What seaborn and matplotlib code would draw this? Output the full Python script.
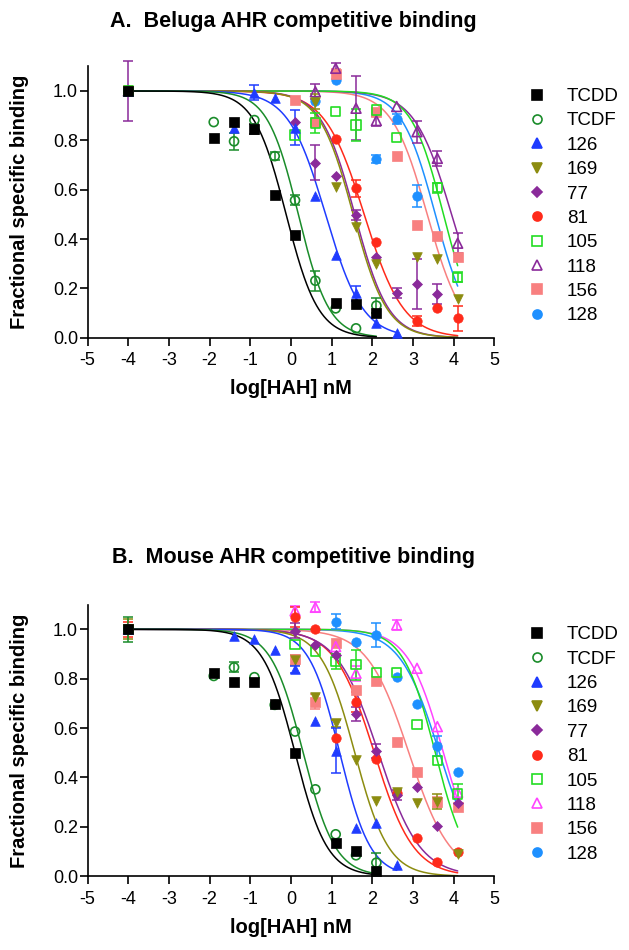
import numpy as np
import pandas as pd
import matplotlib
matplotlib.use("Agg")
import matplotlib.pyplot as plt
from matplotlib.lines import Line2D
import seaborn as sns

# ── Data ─────────────────────────────────────────────────────────────────────
nan = np.nan
LOG_DOSE = [-4, -1.9, -1.4, -0.9, -0.4, 0.1, 0.6, 1.1, 1.6, 2.1, 2.6, 3.1, 3.6, 4.1]
COMPOUNDS = ["TCDD", "TCDF", "126", "169", "77", "81", "105", "118", "156", "128"]

# Panel A: beluga AHR (fractional specific binding, mean and error)
bel_tcdd = [1.0, 0.81, 0.875, 0.845, 0.578, 0.418, nan, 0.14, 0.137, 0.10, nan, nan, nan, nan]
bel_tcdf = [1.0, 0.874, 0.796, 0.882, 0.736, 0.557, 0.231, 0.119, 0.038, 0.13, nan, nan, nan, nan]
bel_126 = [1.0, nan, 0.851, 0.993, 0.973, 0.851, 0.574, 0.335, 0.18, 0.058, 0.018, nan, nan, nan]
bel_169 = [1.0, nan, nan, nan, nan, nan, 0.957, 0.612, 0.45, 0.30, nan, 0.326, 0.318, 0.155]
bel_77 = [1.0, nan, nan, nan, nan, 0.876, 0.71, 0.656, 0.497, 0.326, 0.18, 0.218, 0.177, nan]
bel_81 = [1.0, nan, nan, nan, nan, nan, nan, 0.806, 0.605, 0.389, nan, 0.068, 0.119, 0.079]
bel_105 = [1.0, nan, nan, nan, nan, 0.822, 0.87, 0.916, 0.862, 0.923, 0.811, nan, 0.608, 0.245]
bel_118 = [1.0, nan, nan, nan, nan, nan, 0.997, 1.092, 0.93, 0.88, 0.937, 0.835, 0.727, 0.383]
bel_156 = [1.0, nan, nan, nan, nan, 0.963, 0.876, 1.07, nan, 0.916, 0.737, 0.457, 0.414, 0.328]
bel_128 = [1.0, nan, nan, nan, nan, nan, 0.96, 1.045, nan, 0.725, 0.886, 0.575, nan, nan]

bel_tcdd_err = [0, 0, 0, 0.02, 0, 0, 0, 0, 0, 0, 0, 0, 0, 0]
bel_tcdf_err = [0, 0, 0.035, 0, 0.015, 0.02, 0.04, 0, 0, 0.03, 0, 0, 0, 0]
bel_126_err = [0, 0, 0, 0.03, 0, 0.07, 0, 0, 0.03, 0, 0, 0, 0, 0]
bel_169_err = [0, 0, 0, 0, 0, 0, 0.03, 0, 0, 0, 0, 0, 0, 0]
bel_77_err = [0, 0, 0, 0, 0, 0, 0.07, 0, 0.02, 0, 0.02, 0.1, 0.04, 0]
bel_81_err = [0, 0, 0, 0, 0, 0, 0, 0, 0.035, 0, 0, 0.02, 0, 0.05]
bel_105_err = [0, 0, 0, 0, 0, 0, 0.04, 0, 0.065, 0, 0, 0, 0.02, 0.02]
bel_118_err = [0.12, 0, 0, 0, 0, 0, 0.03, 0.02, 0.13, 0.02, 0, 0.045, 0.03, 0.04]
bel_156_err = [0.02, 0, 0, 0, 0, 0, 0, 0.02, 0, 0, 0, 0, 0, 0]
bel_128_err = [0, 0, 0, 0, 0, 0, 0, 0, 0, 0.015, 0.02, 0.045, 0, 0]

# Panel B: mouse AHR
mou_tcdd = [1.0, 0.825, 0.788, 0.788, 0.696, 0.498, nan, 0.136, 0.104, 0.022, nan, nan, nan, nan]
mou_tcdf = [1.0, 0.811, 0.846, 0.806, 0.694, 0.586, 0.352, 0.17, 0.085, 0.055, nan, nan, nan, nan]
mou_126 = [1.0, nan, 0.974, 0.961, 0.918, 0.838, 0.628, 0.509, 0.197, 0.217, 0.046, nan, nan, nan]
mou_169 = [1.0, nan, nan, nan, nan, 0.876, 0.727, 0.619, 0.471, 0.305, 0.343, 0.298, 0.302, 0.09]
mou_77 = [1.0, nan, nan, nan, nan, 0.995, 0.937, 0.896, 0.657, 0.507, 0.329, 0.36, 0.204, 0.296]
mou_81 = [1.0, nan, nan, nan, nan, 1.051, 1.0, 0.561, 0.707, 0.474, 0.336, 0.154, 0.057, 0.1]
mou_105 = [1.0, nan, nan, nan, nan, 0.937, 0.91, 0.869, 0.856, 0.825, 0.825, 0.613, 0.47, 0.333]
mou_118 = [1.0, nan, nan, nan, nan, 1.075, 1.089, 0.93, 0.822, nan, 1.018, 0.842, 0.606, 0.34]
mou_156 = [1.0, nan, nan, nan, nan, 0.879, 0.707, 0.943, 0.754, 0.791, 0.545, 0.421, 0.302, 0.279]
mou_128 = [1.0, nan, nan, nan, nan, nan, nan, 1.031, 0.95, 0.977, 0.806, 0.698, 0.528, 0.424]

mou_tcdd_err = [0, 0, 0, 0, 0, 0, 0, 0, 0, 0, 0, 0, 0, 0]
mou_tcdf_err = [0.05, 0, 0.02, 0, 0, 0, 0, 0, 0, 0.04, 0, 0, 0, 0]
mou_126_err = [0, 0, 0, 0, 0, 0.015, 0, 0.09, 0, 0, 0, 0, 0, 0]
mou_169_err = [0.04, 0, 0, 0, 0, 0.02, 0, 0.015, 0, 0, 0, 0, 0.03, 0]
mou_77_err = [0, 0, 0, 0, 0, 0.03, 0, 0, 0.03, 0.03, 0.02, 0, 0, 0]
mou_81_err = [0.03, 0, 0, 0, 0, 0.04, 0, 0, 0.04, 0, 0, 0, 0, 0]
mou_105_err = [0, 0, 0, 0, 0, 0, 0, 0.03, 0.06, 0, 0, 0, 0, 0.04]
mou_118_err = [0, 0, 0, 0, 0, 0.02, 0.02, 0, 0.03, 0, 0.02, 0, 0, 0]
mou_156_err = [0, 0, 0, 0, 0, 0, 0.03, 0, 0, 0, 0, 0, 0.02, 0]
mou_128_err = [0, 0, 0, 0, 0, 0, 0, 0.03, 0, 0.05, 0, 0, 0.04, 0]

# Fitted one-site competition curves: log IC50, Hill slope, last log dose
bel_log_ic50 = [-0.12, 0.18, 0.85, 1.53, 1.57, 1.8, 3.75, 3.95, 3.35, 3.55]
bel_hill = [1.1, 1.15, 0.95, 1.05, 1.05, 0.9, 1.1, 0.95, 1.0, 1.05]
mou_log_ic50 = [0.1, 0.3, 1.2, 1.57, 2.15, 2.05, 3.55, 3.75, 2.9, 3.65]
mou_hill = [1.1, 1.1, 1.15, 1.05, 0.85, 0.9, 1.1, 1.0, 0.85, 0.9]
curve_end = [2.1, 2.1, 2.6, 4.1, 4.1, 4.1, 4.1, 4.1, 4.1, 4.1]

# ── Styles ───────────────────────────────────────────────────────────────────
COLORS_A = ["#000000", "#1a8c2a", "#1f3cff", "#8c8c10", "#8a2a9a", "#ff2a1a",
            "#22dd22", "#8a2a9a", "#f88080", "#1e90ff"]
COLORS_B = list(COLORS_A)
COLORS_B[7] = "#ff44ff"
MARKERS = ["s", "o", "^", "v", "D", "o", "s", "^", "s", "o"]
FILLED = [True, False, True, True, True, True, False, False, True, True]
MSIZE = [42, 42, 48, 48, 26, 46, 44, 50, 42, 46]

sns.set_style("ticks")
plt.rcParams["font.family"] = ["Liberation Sans", "DejaVu Sans"]
plt.rcParams["axes.unicode_minus"] = False
for key in ("text.color", "axes.labelcolor", "xtick.color", "ytick.color",
            "axes.edgecolor"):
    plt.rcParams[key] = "black"


def draw_panel(ax, ys, errs, ic50s, hills, colors):
    curve_rows = []
    for name, ic50, h, xe in zip(COMPOUNDS, ic50s, hills, curve_end):
        xs = np.linspace(-4, xe, 300)
        for x in xs:
            curve_rows.append((name, x, 1.0 / (1.0 + 10 ** (h * (x - ic50)))))
    curves = pd.DataFrame(curve_rows, columns=["compound", "logdose", "binding"])

    # later series first so TCDD ends up on top, like the original
    for i in reversed(range(len(COMPOUNDS))):
        c = colors[i]
        sub = curves[curves["compound"] == COMPOUNDS[i]]
        sns.lineplot(data=sub, x="logdose", y="binding", color=c, lw=1.1,
                     ax=ax, legend=False, zorder=2)

    for i in reversed(range(len(COMPOUNDS))):
        c = colors[i]
        y = np.array(ys[i], dtype=float)
        e = np.array(errs[i], dtype=float)
        x = np.array(LOG_DOSE, dtype=float)
        has_err = (e > 0) & ~np.isnan(y)
        ax.errorbar(x[has_err], y[has_err], yerr=e[has_err], fmt="none",
                    ecolor=c, elinewidth=1.1, capsize=3.5, capthick=1.1,
                    zorder=3, clip_on=False)
        ok = ~np.isnan(y)
        pts = pd.DataFrame({"logdose": x[ok], "binding": y[ok]})
        if FILLED[i]:
            sns.scatterplot(data=pts, x="logdose", y="binding", marker=MARKERS[i],
                            s=MSIZE[i], color=c, edgecolor=c, linewidth=0.5,
                            ax=ax, legend=False, zorder=4, clip_on=False)
        else:
            sns.scatterplot(data=pts, x="logdose", y="binding", marker=MARKERS[i],
                            s=MSIZE[i], color=c, facecolors="none", edgecolor=c,
                            linewidth=1.2, ax=ax, legend=False, zorder=4,
                            clip_on=False)

    ax.set_xlim(-5, 5)
    ax.set_ylim(0, 1.1)
    ax.set_xticks(range(-5, 6))
    ax.set_yticks([0, 0.2, 0.4, 0.6, 0.8, 1.0])
    ax.set_yticklabels(["0.0", "0.2", "0.4", "0.6", "0.8", "1.0"])
    sns.despine(ax=ax)
    for sp in ("left", "bottom"):
        ax.spines[sp].set_linewidth(1.2)
        ax.spines[sp].set_color("black")
    ax.tick_params(direction="out", length=5.5, width=1.2, labelsize=13,
                   colors="black")
    ax.tick_params(axis="x", pad=5)
    ax.tick_params(axis="y", pad=1.5)
    ax.set_xlabel("log[HAH] nM", fontsize=14.5, fontweight="bold", labelpad=7)
    ax.set_ylabel("Fractional specific binding", fontsize=14.5,
                  fontweight="bold", labelpad=17)

    handles = []
    for i, name in enumerate(COMPOUNDS):
        handles.append(Line2D([], [], linestyle="none", marker=MARKERS[i],
                              markersize=6.5 if MARKERS[i] != "D" else 5,
                              color=colors[i],
                              markerfacecolor=colors[i] if FILLED[i] else "none",
                              markeredgewidth=1.2, label=name))
    ax.legend(handles=handles, loc="upper left", bbox_to_anchor=(1.082, 0.92),
              frameon=False, fontsize=13.5, handlelength=1.0,
              handletextpad=1.09, labelspacing=0.385, borderpad=0,
              borderaxespad=0, labelcolor="black")


fig = plt.figure(figsize=(6.29, 9.5), dpi=100)
ax_a = fig.add_axes([0.1394, 0.6445, 0.6464, 0.2857])
ax_b = fig.add_axes([0.1394, 0.0776, 0.6464, 0.286])

draw_panel(ax_a,
           [bel_tcdd, bel_tcdf, bel_126, bel_169, bel_77, bel_81, bel_105,
            bel_118, bel_156, bel_128],
           [bel_tcdd_err, bel_tcdf_err, bel_126_err, bel_169_err, bel_77_err,
            bel_81_err, bel_105_err, bel_118_err, bel_156_err, bel_128_err],
           bel_log_ic50, bel_hill, COLORS_A)
draw_panel(ax_b,
           [mou_tcdd, mou_tcdf, mou_126, mou_169, mou_77, mou_81, mou_105,
            mou_118, mou_156, mou_128],
           [mou_tcdd_err, mou_tcdf_err, mou_126_err, mou_169_err, mou_77_err,
            mou_81_err, mou_105_err, mou_118_err, mou_156_err, mou_128_err],
           mou_log_ic50, mou_hill, COLORS_B)

fig.text(293 / 629, 1 - 21 / 950, "A.  Beluga AHR competitive binding",
         ha="center", va="center", fontsize=15.5, fontweight="bold")
fig.text(293 / 629, 1 - 557 / 950, "B.  Mouse AHR competitive binding",
         ha="center", va="center", fontsize=15.5, fontweight="bold")

fig.savefig("out.png", dpi=100, facecolor="white")
